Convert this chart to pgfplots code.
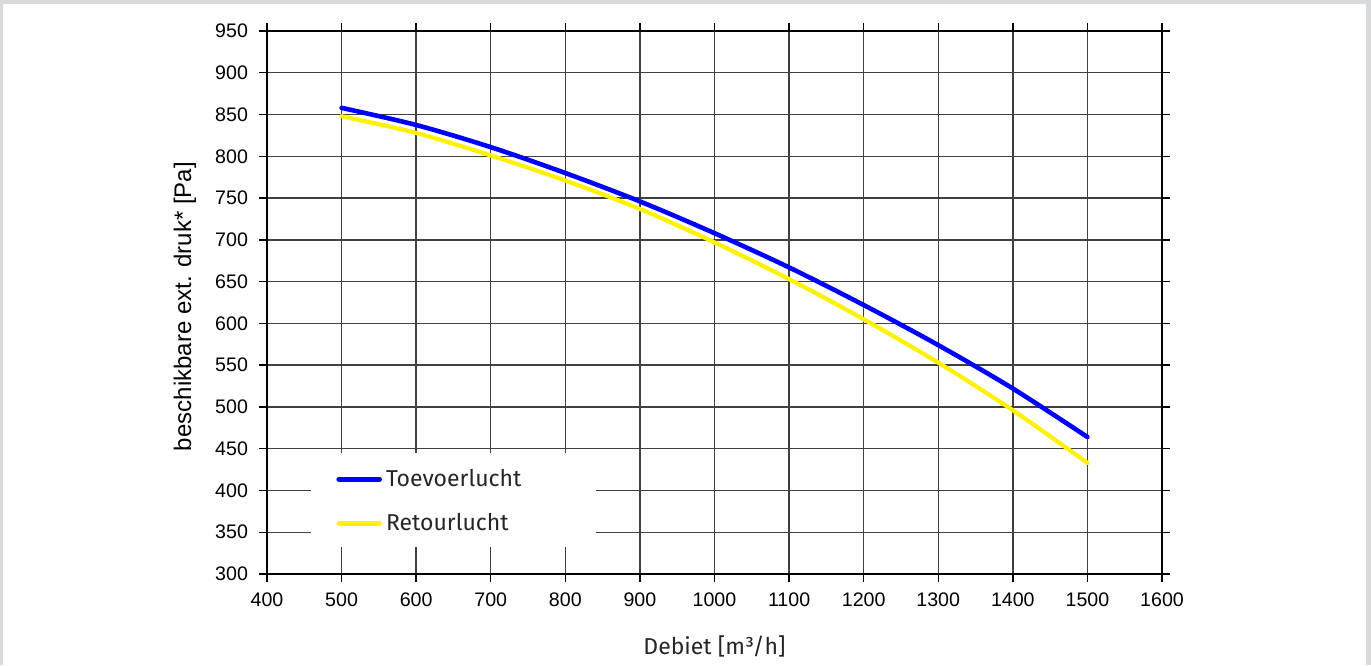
\documentclass[border=0pt]{standalone}
\usepackage{pgfplots}
\pgfplotsset{compat=1.18}
\usepackage{fontspec}
\setmainfont{Fira Sans}
\newfontfamily\arialf{Liberation Sans}
\definecolor{framegray}{HTML}{D9DADC}
\pgfplotstableread{
x y
500 858
600 837.5
700 811
800 780
900 746
1000 708
1100 667
1200 622
1300 574
1400 522
1500 464
}\toevoer
\pgfplotstableread{
x y
500 848
600 828
700 801
800 771
900 737
1000 697
1100 653
1200 605
1300 553
1400 496
1500 433
}\retour
\begin{document}
\begin{tikzpicture}
\fill[framegray] (0,0) rectangle (685.5pt,332.5pt);
\fill[white] (1.5pt,0) rectangle (683pt,330.5pt);
\path[use as bounding box] (0,0) rectangle (685.5pt,332.5pt);
\begin{axis}[
  at={(133.5pt,45.5pt)}, anchor=south west,
  scale only axis, width=447.5pt, height=271.5pt,
  xmin=400, xmax=1600, ymin=300, ymax=950,
  xtick={400,500,...,1600}, ytick={300,350,...,950},
  /pgf/number format/1000 sep={},
  /pgf/number format/assume math mode=true,
  tick align=outside, major tick length=4pt,
  tick style={black, line width=0.7pt},
  ticklabel style={font=\arialf\fontsize{9.8}{12}\selectfont, text=black},
  yticklabel style={xshift=-2pt},
  xticklabel style={yshift=-1.7pt},
  grid=major,
  major grid style={black!75, line width=0.7pt},
  axis line style={black, line width=1pt},
  xlabel={Debiet [m³/h]},
  ylabel={\arialf beschikbare ext. druk* [Pa]},
  label style={font=\fontsize{11.5}{14}\selectfont, text=black!85},
  xlabel style={at={(axis description cs:0.5,0)}, anchor=center, yshift=-36pt},
  ylabel style={at={(axis description cs:0,0.5)}, anchor=center, yshift=41pt, xshift=-2pt, font=\arialf\fontsize{12}{14}\selectfont, text=black},
  legend style={at={(axis cs:459,445.2)}, anchor=north west, draw=none, fill=none,
    font=\fontsize{11.5}{14}\selectfont, text=black!85, inner xsep=12.5pt, inner ysep=6pt,
    row sep=8pt, legend cell align=left},
  legend image code/.code={\draw[#1] (0pt,0pt) -- (20.5pt,0pt);},
]
\fill[white] (axis cs:459,332.8) rectangle (axis cs:841,445.2);
\addplot[blue, line width=2.3pt, smooth, line cap=round] table[x=x,y=y] {\toevoer};
\addlegendentry{Toevoerlucht}
\addplot[yellow, line width=2.1pt, smooth, line cap=round] table[x=x,y=y] {\retour};
\addlegendentry{Retourlucht}
\end{axis}
\end{tikzpicture}
\end{document}
